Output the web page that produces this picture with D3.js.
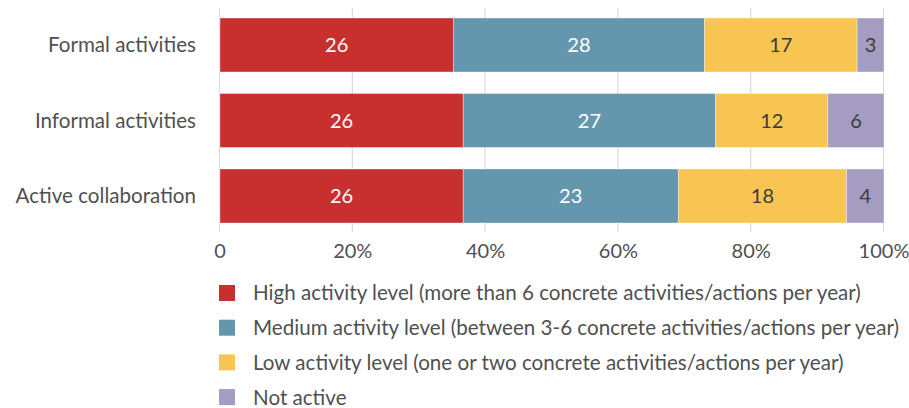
<!DOCTYPE html>
<html>
<head>
<meta charset="utf-8">
<script src="https://cdn.jsdelivr.net/npm/d3@7"></script>
<style>
  html, body { margin: 0; padding: 0; background: #fff; }
  svg { display: block; font-family: Lato, "Open Sans", sans-serif; }
</style>
</head>
<body>
<svg id="chart" width="909" height="408"></svg>
<script>
// Activity groups (rows) and activity levels (stacked segments)
const categories = ["Formal activities", "Informal activities", "Active collaboration"];
const levels = [
  "High activity level (more than 6 concrete activities/actions per year)",
  "Medium activity level (between 3-6 concrete activities/actions per year)",
  "Low activity level (one or two concrete activities/actions per year)",
  "Not active"
];
const highValues   = [26, 26, 26];
const mediumValues = [28, 27, 23];
const lowValues    = [17, 12, 18];
const notValues    = [3, 6, 4];
const tickValues = [0, 0.2, 0.4, 0.6, 0.8, 1];
const tickLabels = ["0", "20%", "40%", "60%", "80%", "100%"];
const colors = ["#c7302f", "#6497ae", "#f8c552", "#a59cc2"];
const labelColors = ["#ffffff", "#ffffff", "#3c3c3c", "#3c3c3c"];

const seriesValues = [highValues, mediumValues, lowValues, notValues];
const keys = ["high", "medium", "low", "none"];
const rows = categories.map((c, i) => {
  const r = { category: c };
  keys.forEach((k, j) => r[k] = seriesValues[j][i]);
  return r;
});

const svg = d3.select("#chart");
const x = d3.scaleLinear().domain([0, 1]).range([220, 884]);
const y = d3.scaleBand().domain(categories).range([7.25, 233.75])
  .paddingInner(0.285).paddingOuter(0.1425);

// Vertical gridlines
svg.append("g").selectAll("line").data(tickValues).join("line")
  .attr("x1", d => x(d) - 0.5).attr("x2", d => x(d) - 0.5)
  .attr("y1", 8).attr("y2", 232)
  .attr("stroke", "#dadada").attr("stroke-width", 1.2);

// Percentage stacks
const stack = d3.stack().keys(keys)
  .offset(d3.stackOffsetExpand)(rows);

const layers = svg.append("g").selectAll("g").data(stack).join("g")
  .attr("fill", (d, i) => colors[i]);

layers.selectAll("rect").data(d => d).join("rect")
  .attr("x", d => x(d[0]))
  .attr("y", d => y(d.data.category))
  .attr("width", d => x(d[1]) - x(d[0]))
  .attr("height", y.bandwidth())
  .attr("stroke", "#ffffff").attr("stroke-width", 0.6).attr("stroke-opacity", 0.6);

// Value labels centred in each segment
stack.forEach((layer, i) => {
  svg.append("g").selectAll("text").data(layer).join("text")
    .attr("x", d => (x(d[0]) + x(d[1])) / 2)
    .attr("y", d => y(d.data.category) + y.bandwidth() / 2)
    .attr("dy", "0.36em")
    .attr("text-anchor", "middle")
    .attr("font-size", 20)
    .attr("fill", labelColors[i])
    .text(d => d.data[layer.key]);
});

// Category labels
svg.append("g").selectAll("text").data(categories).join("text")
  .attr("x", 196)
  .attr("y", d => y(d) + y.bandwidth() / 2)
  .attr("dy", "0.36em")
  .attr("text-anchor", "end")
  .attr("font-size", 20.6)
  .attr("fill", "#505050")
  .text(d => d);

// Bottom axis tick labels
svg.append("g").selectAll("text").data(tickValues).join("text")
  .attr("x", d => x(d))
  .attr("y", 258)
  .attr("text-anchor", "middle")
  .attr("font-size", 20)
  .attr("fill", "#505050")
  .text((d, i) => tickLabels[i]);

// Legend
const legend = svg.append("g").selectAll("g").data(levels).join("g")
  .attr("transform", (d, i) => `translate(219, ${285 + i * 34.7})`);
legend.append("rect")
  .attr("width", 16).attr("height", 16)
  .attr("fill", (d, i) => colors[i]);
legend.append("text")
  .attr("x", 34).attr("y", 8).attr("dy", "0.36em")
  .attr("font-size", 20.6)
  .attr("fill", "#505050")
  .text(d => d);
</script>
</body>
</html>
